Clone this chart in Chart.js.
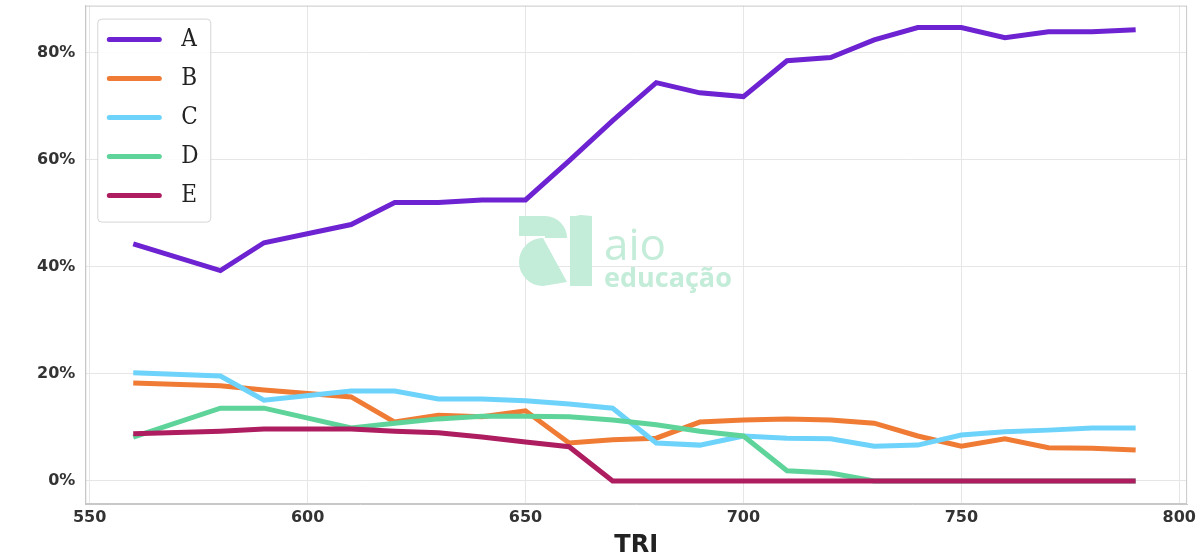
<!DOCTYPE html>
<html><head><meta charset="utf-8">
<script src="https://cdn.jsdelivr.net/npm/chart.js@4"></script>
<style>html,body{margin:0;background:#fff;overflow:hidden}#wrap{width:1200px;height:574px;margin-top:-14px}</style>
</head><body><div id="wrap"><canvas id="c"></canvas></div>
<script>
const tri = [560,580,590,610,620,630,640,650,660,670,680,690,700,710,720,730,740,750,760,770,780,790];
const serieA = [44.3,39.3,44.5,47.9,52.0,52.0,52.5,52.5,59.8,67.3,74.4,72.5,71.8,78.5,79.1,82.4,84.7,84.7,82.8,83.9,83.9,84.3];
const serieB = [18.3,17.8,17.0,15.7,11.0,12.3,12.0,13.1,7.1,7.7,8.0,11.0,11.4,11.6,11.4,10.8,8.4,6.5,7.9,6.2,6.1,5.8];
const serieC = [20.2,19.6,15.1,16.8,16.8,15.3,15.3,15.0,14.4,13.6,7.1,6.7,8.4,8.0,7.9,6.5,6.7,8.6,9.2,9.5,9.9,9.9];
const serieD = [8.2,13.6,13.6,9.9,10.8,11.6,12.1,12.1,12.0,11.4,10.5,9.3,8.4,1.9,1.5,0,0,0,0,0,0,0];
const serieE = [8.8,9.3,9.7,9.7,9.3,9.0,8.2,7.3,6.4,0,0,0,0,0,0,0,0,0,0,0,0,0];
const labels = ['A','B','C','D','E'];
const colors = ['#6d23d1','#ef7b35','#6dd3fb','#5ed49a','#ad1d5f'];
const yTicks = [0,20,40,60,80];

const series = [serieA,serieB,serieC,serieD,serieE];
const datasets = series.map((s,i)=>({
  label: labels[i],
  data: s.map((v,j)=>({x: tri[j], y: v})),
  borderColor: colors[i], borderWidth: 5, pointRadius: 0, tension: 0, fill: false,
  order: series.length - i
}));

const extras = {
  id: 'extras',
  beforeDatasetsDraw(chart){
    const ctx = chart.ctx;
    ctx.save();
    // watermark (page coords shifted by wrapper offset)
    ctx.translate(0, 14);
    ctx.fillStyle = '#c3ecd9';
    const wx = 519, wy = 216;
    ctx.fillRect(wx, wy, 26, 20);
    ctx.beginPath(); ctx.moveTo(wx+26,wy); ctx.arc(wx+26,wy+22,22,-Math.PI/2,0); ctx.lineTo(wx+26,wy+22); ctx.fill();
    ctx.beginPath(); ctx.arc(wx+24,wy+46,24,Math.PI*0.5,Math.PI*1.5); ctx.lineTo(wx+48,wy+66); ctx.fill();
    ctx.fillRect(wx+51, wy, 22, 70);
    ctx.beginPath(); ctx.arc(wx+62,wy+10,11,Math.PI,Math.PI*1.5); ctx.lineTo(wx+73,wy); ctx.lineTo(wx+73,wy+10); ctx.fill();
    ctx.font = '44px "Open Sans", sans-serif'; ctx.textBaseline = 'alphabetic';
    ctx.fillText('aio', 604, 260);
    ctx.font = 'bold 27px "Open Sans", sans-serif';
    ctx.fillText('educação', 604, 287);
    ctx.restore();
  },
  afterDatasetsDraw(chart){
    const ctx = chart.ctx, a = chart.chartArea;
    ctx.save();
    ctx.strokeStyle = '#c8c8c8'; ctx.lineWidth = 1;
    ctx.strokeRect(a.left + 0.5, a.top + 0.5, a.right - a.left - 1, a.bottom - a.top - 1);
    const lx = a.left + 12, ly = a.top + 13;
    ctx.fillStyle = 'rgba(255,255,255,0.85)'; ctx.strokeStyle = '#d5d5d5'; ctx.lineWidth = 1;
    ctx.beginPath(); ctx.roundRect(lx+0.5, ly+0.5, 113, 203, 4); ctx.fill(); ctx.stroke();
    ctx.font = '24px "DejaVu Serif Condensed", "DejaVu Serif", serif'; ctx.textBaseline = 'middle';
    labels.forEach((l,i)=>{
      const y = ly + 21 + i*39;
      ctx.strokeStyle = colors[i]; ctx.lineWidth = 5; ctx.lineCap = 'round';
      ctx.beginPath(); ctx.moveTo(lx+12, y); ctx.lineTo(lx+62, y); ctx.stroke();
      ctx.fillStyle = '#222'; ctx.fillText(l, lx+84, y);
    });
    ctx.restore();
  }
};

new Chart(document.getElementById('c'), {
  type: 'line',
  data: { datasets },
  plugins: [extras],
  options: {
    responsive: true, maintainAspectRatio: false, animation: false,
    layout: { padding: { left: 27, right: 7, top: 0, bottom: 0 } },
    plugins: { legend: { display: false }, tooltip: { enabled: false } },
    scales: {
      x: { type: 'linear', min: 549, max: 801.8,
        afterBuildTicks: s => { s.ticks = [550,600,650,700,750,800].map(v=>({value:v})); },
        grid: { color: '#e6e6e6', drawTicks: false },
        border: { color: '#c8c8c8' },
        ticks: { color: '#333', font: { size: 16, weight: 'bold', family: 'DejaVu Sans' }, padding: 4 },
        title: { display: true, text: 'TRI', color: '#222', font: { size: 24, weight: 'bold', family: 'DejaVu Sans' }, padding: { top: 0, bottom: 0 } }
      },
      y: { min: -4.3, max: 88.8,
        afterBuildTicks: s => { s.ticks = yTicks.map(v=>({value:v})); },
        grid: { color: '#e6e6e6', drawTicks: false },
        border: { color: '#c8c8c8' },
        ticks: { color: '#333', font: { size: 16, weight: 'bold', family: 'DejaVu Sans' }, padding: 10, callback: v => v + '%' }
      }
    }
  }
});
</script></body></html>
